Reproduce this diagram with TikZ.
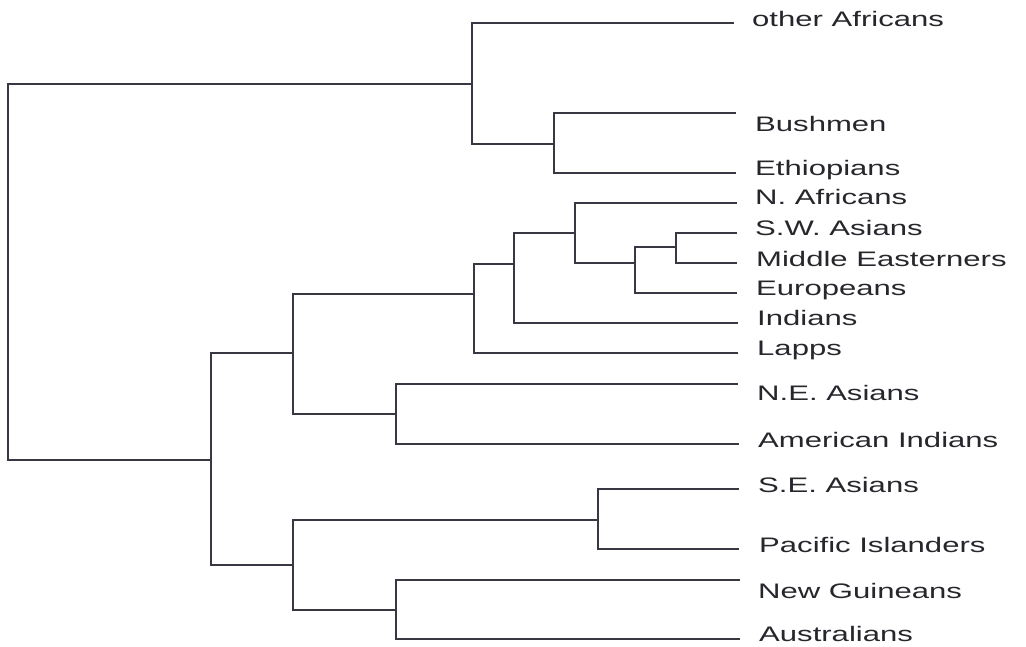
\documentclass[tikz,border=0pt]{standalone}
\usepackage{fontspec}
\setmainfont{Liberation Sans}[FakeStretch=1.48]
\begin{document}
\definecolor{branch}{RGB}{55,56,66}
\definecolor{labeltext}{RGB}{38,38,44}
\begin{tikzpicture}[x=1pt,y=-1pt,
  edge/.style={draw=branch,line width=1.3pt,line cap=rect},
  taxon/.style={anchor=base west,inner sep=0pt,text=labeltext,font=\fontsize{21}{24}\selectfont}]
\useasboundingbox[fill=white] (0,0) rectangle (1026,647);

% inner nodes of the tree: (x of the vertical bar, y where the parent joins)
\coordinate (root) at (8,272);
\coordinate (afr)  at (472,84);
\coordinate (bet)  at (554,144);
\coordinate (nafr) at (211,460);
\coordinate (gA)   at (293,353);
\coordinate (cA)   at (474,294);
\coordinate (cB)   at (514,264);
\coordinate (cC)   at (575,233);
\coordinate (cD)   at (635,263);
\coordinate (cE)   at (676,247);
\coordinate (neam) at (396,414);
\coordinate (gB)   at (293,565);
\coordinate (sepi) at (598,520);
\coordinate (ngau) at (396,610);

% tips of the leaf branches
\coordinate (e1)  at (733,23);
\coordinate (e2)  at (735,113);
\coordinate (e3)  at (735,173);
\coordinate (e4)  at (736,203);
\coordinate (e5)  at (736,233);
\coordinate (e6)  at (736,263);
\coordinate (e7)  at (736,293);
\coordinate (e8)  at (737,323);
\coordinate (e9)  at (737,353);
\coordinate (e10) at (737,384);
\coordinate (e11) at (738,444);
\coordinate (e12) at (738,489);
\coordinate (e13) at (738,549);
\coordinate (e14) at (739,580);
\coordinate (e15) at (739,639);

% labels
\node[taxon] (l1)  at (752,27)  {other Africans};
\node[taxon] (l2)  at (755,132) {Bushmen};
\node[taxon] (l3)  at (755,176) {Ethiopians};
\node[taxon] (l4)  at (755,205) {N. Africans};
\node[taxon] (l5)  at (755,236) {S.W. Asians};
\node[taxon] (l6)  at (756,267) {Middle Easterners};
\node[taxon] (l7)  at (756,296) {Europeans};
\node[taxon] (l8)  at (757,326) {Indians};
\node[taxon] (l9)  at (757,355) {Lapps};
\node[taxon] (l10) at (757,400) {N.E. Asians};
\node[taxon] (l11) at (758,447) {American Indians};
\node[taxon] (l12) at (758,492) {S.E. Asians};
\node[taxon] (l13) at (759,552) {Pacific Islanders};
\node[taxon] (l14) at (758,598) {New Guineans};
\node[taxon] (l15) at (759,641) {Australians};

% brackets: child -| parent |- child
\draw[edge] (afr)  -| (root) |- (nafr);
\draw[edge] (e1)   -| (afr)  |- (bet);
\draw[edge] (e2)   -| (bet)  |- (e3);
\draw[edge] (gA)   -| (nafr) |- (gB);
\draw[edge] (cA)   -| (gA)   |- (neam);
\draw[edge] (cB)   -| (cA)   |- (e9);
\draw[edge] (cC)   -| (cB)   |- (e8);
\draw[edge] (e4)   -| (cC)   |- (cD);
\draw[edge] (cE)   -| (cD)   |- (e7);
\draw[edge] (e5)   -| (cE)   |- (e6);
\draw[edge] (e10)  -| (neam) |- (e11);
\draw[edge] (sepi) -| (gB)   |- (ngau);
\draw[edge] (e12)  -| (sepi) |- (e13);
\draw[edge] (e14)  -| (ngau) |- (e15);
\end{tikzpicture}
\end{document}
